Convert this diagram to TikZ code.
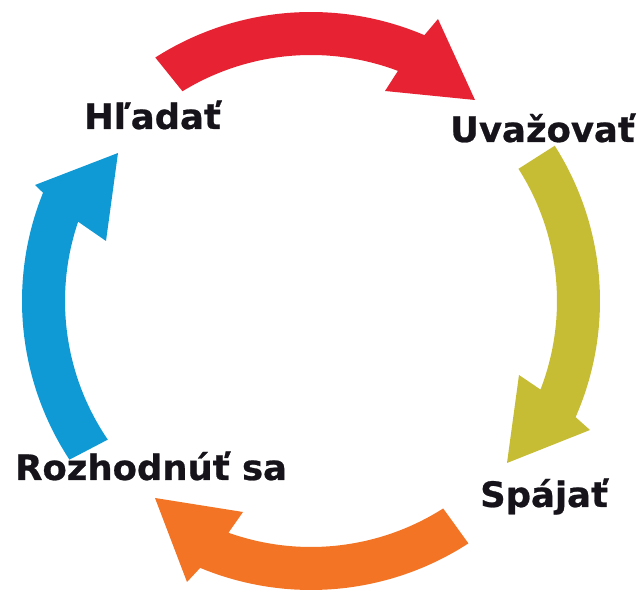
\documentclass[tikz,border=0pt]{standalone}
\usepackage{fontspec}
\newfontfamily\lblfont{DejaVu Sans Bold}[FakeBold=0.7]
\definecolor{cred}{HTML}{E72333}
\definecolor{cyel}{HTML}{C6BD35}
\definecolor{cora}{HTML}{F37425}
\definecolor{cblu}{HTML}{0F9AD5}
\definecolor{ctxt}{HTML}{16131A}
\tikzset{lbl/.style={anchor=base west, inner sep=0pt, text=ctxt, xscale=1.012, font=\lblfont\fontsize{35}{40}\selectfont}}
\begin{document}
\begin{tikzpicture}[x=1pt,y=1pt]
\useasboundingbox (0,0) rectangle (641,591);
\begin{scope}[shift={(311,290)}]
% red
\fill[cred] (122.6:289) arc[start angle=122.6, end angle=66.9, radius=289] -- (127,282) -- (164,201) -- (74,210) -- (69.3:246) arc[start angle=69.3, end angle=121.5, radius=246] -- cycle;
% yellow
\fill[cyel] (32.5:289) arc[start angle=32.5, end angle=-23.7, radius=289] -- (279,-129) -- (196,-162) -- (208,-74) -- (-21.1:246) arc[start angle=-21.1, end angle=32.5, radius=246] -- cycle;
% orange
\fill[cora] (-57:289) arc[start angle=-57, end angle=-112.55, radius=289] -- (-124,-281) -- (-156,-197) -- (-68,-211) -- (-109.6:246) arc[start angle=-109.6, end angle=-57.5, radius=246] -- cycle;
% blue
\fill[cblu] (213.3:289) arc[start angle=213.3, end angle=158.0, radius=289] -- (-276,116) -- (-193,148) -- (-205,60) -- (161.2:246) arc[start angle=161.2, end angle=214.3, radius=246] -- cycle;
\end{scope}
\node[lbl] (hladat) at (84,462) {Hľadať};
\node[lbl] (uvazovat) at (450,449) {Uvažovať};
\node[lbl] (spajat) at (480,84) {Spájať};
\node[lbl] (rozhodnut) at (15,111) {Rozhodnúť sa};
\end{tikzpicture}
\end{document}
